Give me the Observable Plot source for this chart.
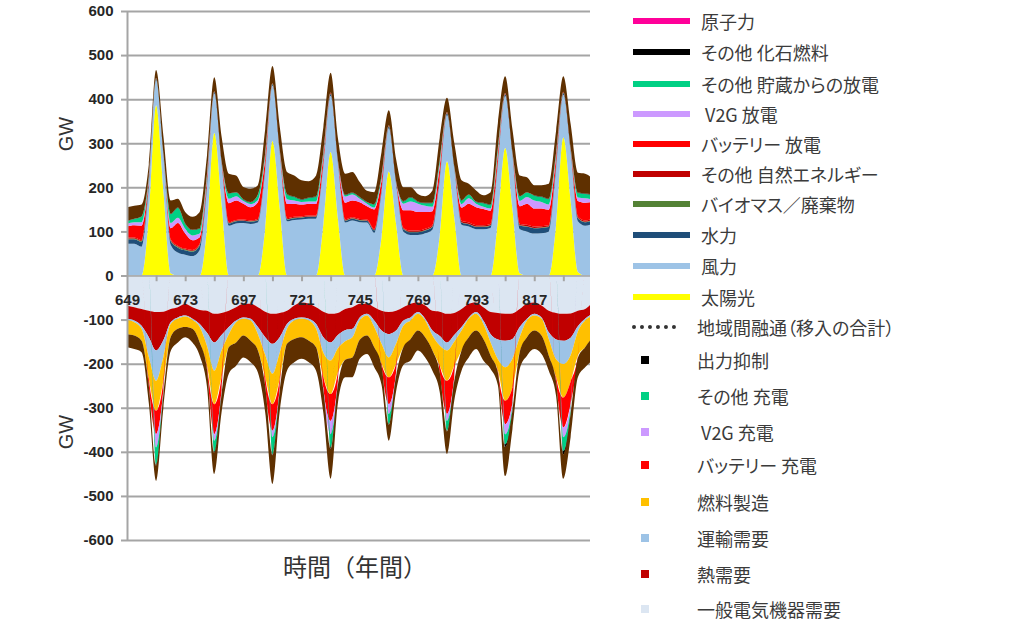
<!DOCTYPE html>
<html><head><meta charset="utf-8">
<script src="https://cdn.jsdelivr.net/npm/d3@7"></script>
<script src="https://cdn.jsdelivr.net/npm/@observablehq/plot@0.6"></script>
<style>
body{margin:0;background:#fff;}
#wrap{position:relative;width:1016px;height:631px;overflow:hidden;background:#fff;}
#chart{position:absolute;left:0;top:0;}
#chart svg g[aria-label="y-axis tick"]{stroke:#a5a5a5;stroke-width:2;}
#chart svg g[aria-label="y-axis tick label"]{font-weight:bold;font-size:15px;fill:#262626;}
.gw{position:absolute;font-family:"Liberation Sans",Arial,sans-serif;font-size:20px;color:#333;transform:translate(-50%,-50%) rotate(-90deg);white-space:nowrap;}
.xt{position:absolute;left:235px;width:240px;top:550px;line-height:32px;text-align:center;font-family:"Noto Sans CJK JP",sans-serif;font-size:24px;color:#333;}
.lt{position:absolute;font-family:"Noto Sans CJK JP",sans-serif;font-size:18px;line-height:26px;color:#3b3b3b;white-space:pre;font-feature-settings:"palt";}
.sw{position:absolute;}
</style></head>
<body><div id="wrap"><div id="chart"></div></div>
<script>
// hours (3-hour steps)
const hours = [649,652,655,658,661,664,667,670,673,676,679,682,685,688,691,694,697,700,703,706,709,712,715,718,721,724,727,730,733,736,739,742,745,748,751,754,757,760,763,766,769,772,775,778,781,784,787,790,793,796,799,802,805,808,811,814,817,820,823,826,829,832,835,838,841];
const xLabelTicks = [649,673,697,721,745,769,793,817];
const xMinorTicks = [661,673,685,697,709,721,733,745,757,769,781,793,805,817,829];
const yTicks = [-600,-500,-400,-300,-200,-100,0,100,200,300,400,500,600];

// supply (GW)
const solar = [0,0,0,135,386,193,5,0, 0,0,0,108,323,163,0,0, 0,0,0,108,305,153,0,0, 0,0,0,116,280,129,0,0, 0,0,0,87,236,117,0,0, 0,0,0,90,259,132,0,0, 0,0,0,126,289,151,5,0, 0,0,0,115,313,170,8,0, 0];
const wind = [72,72,65,65,57,80,65,52, 47,44,58,90,90,91,113,118, 119,117,120,128,126,125,123,126, 127,129,129,130,128,125,120,125, 121,120,97,100,98,90,100,92, 92,96,104,125,105,110,115,111, 105,105,108,125,118,122,100,100, 95,96,100,125,97,111,115,113, 117];
const hydro = [10,10,11,10,3,3,8,11, 10,10,10,8,3,4,5,5, 5,5,5,5,3,4,4,4, 4,4,4,4,4,4,4,4, 4,4,5,5,4,4,5,6, 6,6,6,6,4,4,5,5, 5,5,5,5,4,5,8,11, 12,12,10,8,4,5,7,8, 8];
const biomass = [2,2,2,2,1,1,2,2, 2,2,2,2,1,1,1,1, 1,1,1,1,1,1,1,1, 1,1,1,1,1,1,1,1, 1,1,1,1,1,1,1,1, 1,1,1,1,1,1,1,1, 1,1,1,1,1,1,1,1, 1,1,1,1,1,1,1,1, 1];
const otherRenew = [2,2,2,2,1,1,2,2, 2,2,2,2,1,2,2,2, 2,2,2,2,1,2,2,2, 2,2,2,2,2,2,2,2, 2,2,2,2,2,2,2,3, 3,3,3,3,2,1,3,3, 3,3,3,3,2,1,3,3, 3,3,3,3,2,3,3,3, 3];
const batteryOut = [25,28,33,5,0,0,25,52, 34,22,15,10,0,0,43,44, 36,30,38,20,0,0,32,30, 27,27,26,15,0,0,38,38, 38,30,45,20,0,0,40,46, 42,38,32,20,0,0,30,43, 41,37,30,15,0,0,40,48, 41,40,35,15,0,0,35,40, 38];
const v2gOut = [6,7,8,3,0,0,12,12, 11,11,8,5,0,0,10,10, 6,7,5,6,0,0,11,7, 6,5,6,5,0,0,14,14, 8,6,4,5,0,0,15,20, 19,14,10,8,0,0,8,12, 8,5,5,6,0,0,12,15, 18,15,12,5,0,0,8,10, 6];
const storageOut = [6,7,12,3,0,0,20,22, 11,12,11,5,0,0,12,8, 3,4,12,6,0,0,11,8, 5,8,10,6,0,0,3,3, 3,3,7,5,0,0,5,9, 4,6,8,8,0,0,8,8, 4,8,8,8,0,0,10,10, 11,11,12,5,0,0,10,10, 10];
const fossil = [1,1,1,0,0,0,1,1, 1,1,1,0,0,0,1,1, 1,1,1,1,0,0,1,1, 1,1,1,1,0,1,1,1, 1,1,1,1,0,0,1,1, 1,1,1,1,0,0,1,1, 1,1,1,1,0,0,1,1, 1,1,1,1,0,0,1,1, 1];
const importFlow = [31,29,27,27,18,39,30,20, 26,29,37,42,32,55,44,38, 28,30,21,54,39,53,50,48, 43,37,48,56,45,50,48,47, 34,25,27,54,34,50,31,22, 17,15,28,50,32,53,45,24, 25,17,28,56,38,52,47,34, 23,26,34,50,35,54,45,45, 36];

// demand (GW, negative)
const general = [-68,-72,-76,-80,-83,-82,-76,-72, -64,-72,-78,-80,-87,-85,-80,-72, -64,-64,-72,-82,-87,-85,-80,-68, -61,-64,-72,-82,-87,-85,-76,-72, -64,-64,-72,-80,-83,-80,-72,-64, -61,-68,-80,-82,-87,-85,-76,-64, -61,-72,-83,-85,-87,-86,-76,-64, -61,-68,-80,-85,-87,-86,-80,-76, -61];
const heat = [-30,-30,-38,-60,-87,-65,-30,-23, -27,-26,-32,-50,-65,-50,-37,-30, -31,-34,-45,-58,-68,-55,-30,-30, -34,-34,-38,-58,-65,-50,-48,-49, -31,-23,-30,-45,-50,-45,-30,-31, -22,-30,-45,-55,-65,-50,-41,-31, -22,-30,-50,-60,-61,-58,-41,-34, -26,-27,-49,-60,-61,-55,-35,-22, -26];
const transport = [-3,-4,-7,-45,-69,-38,-4,-3, -2,-3,-7,-30,-64,-35,-16,-4, -3,-4,-16,-40,-68,-35,-11,-4, -3,-4,-11,-35,-41,-30,-25,-19, -7,-4,-15,-30,-53,-30,-12,-7, -4,-4,-11,-22,-18,-15,-8,-3, -4,-8,-19,-45,-60,-45,-23,-4, -4,-3,-15,-45,-53,-40,-12,-4, -5];
const fuel = [-32,-30,-27,-50,-68,-55,-30,-23, -24,-20,-35,-45,-76,-60,-30,-46, -38,-46,-37,-50,-69,-60,-34,-42, -42,-46,-42,-55,-76,-55,-42,-46, -44,-45,-46,-45,-45,-45,-49,-42, -38,-38,-34,-45,-69,-55,-45,-42, -38,-34,-30,-25,-76,-65,-34,-38, -34,-38,-38,-40,-76,-60,-55,-61, -48];
const batteryIn = [0,0,0,-15,-53,-20,0,0, 0,0,0,-8,-68,-30,0,0, 0,0,0,-20,-60,-20,0,0, 0,0,0,-25,-61,-20,0,0, 0,0,0,-5,-61,-20,0,0, 0,0,0,-15,-75,-25,0,0, 0,0,0,-5,-53,-35,0,0, 0,0,0,-10,-68,-50,-5,0, 0];
const v2gIn = [0,0,0,0,-30,-5,0,0, 0,0,0,0,-15,-5,0,0, 0,0,0,0,-15,-5,0,0, 0,0,0,-5,-30,-5,0,0, 0,0,0,0,-22,-5,0,0, 0,0,0,0,-16,-5,0,0, 0,0,0,0,-23,-8,0,0, 0,0,0,0,-22,-12,0,0, 0];
const otherIn = [0,0,0,0,-38,-5,0,0, 0,0,0,0,-25,-5,0,0, 0,0,0,0,-38,-3,0,0, 0,0,0,0,-30,-3,0,0, 0,0,0,0,-23,-3,0,0, 0,0,0,0,-22,-5,0,0, 0,0,0,0,-23,-8,0,0, 0,0,0,0,-31,-10,0,0, 0];
const curtail = [0,0,0,0,-3,-1,0,0, 0,0,0,0,-2,-1,0,0, 0,0,0,0,-3,0,0,0, 0,0,0,0,-4,0,0,0, 0,0,0,0,-2,0,0,0, 0,0,0,0,-2,0,0,0, 0,0,0,0,-6,-2,0,0, 0,0,0,0,-8,-2,0,0, 0];
const exportFlow = [-30,-31,-26,-40,-35,-30,-32,-31, -23,-31,-30,-40,-48,-40,-60,-53, -50,-49,-50,-60,-65,-45,-61,-53, -49,-49,-53,-52,-67,-41,-40,-45, -43,-42,-45,-43,-36,-35,-40,-49, -45,-46,-46,-45,-51,-44,-46,-46, -42,-49,-30,-29,-66,-42,-38,-42, -42,-42,-34,-33,-55,-52,-44,-45, -53];

const posNames = ["太陽光","風力","水力","バイオマス／廃棄物","その他 自然エネルギー","バッテリー 放電","V2G 放電","その他 貯蔵からの放電","その他 化石燃料","地域間融通（移入）"];
const posValues = [solar, wind, hydro, biomass, otherRenew, batteryOut, v2gOut, storageOut, fossil, importFlow];
const posColors = ["#ffff00","#9dc3e6","#1f4e79","#548235","#c00000","#ff0000","#cc99ff","#00d084","#000000","#5f3000"];
const negNames = ["一般電気機器需要","熱需要","運輸需要","燃料製造","バッテリー 充電","V2G 充電","その他 充電","出力抑制","地域間融通（移出）"];
const negValues = [general, heat, transport, fuel, batteryIn, v2gIn, otherIn, curtail, exportFlow];
const negColors = ["#dce6f2","#c00000","#9dc3e6","#ffc000","#ff0000","#cc99ff","#00d084","#000000","#5f3000"];

const legendLabels = ["原子力","その他 化石燃料","その他 貯蔵からの放電"," V2G 放電","バッテリー 放電","その他 自然エネルギー","バイオマス／廃棄物","水力","風力","太陽光","地域間融通（移入の合計）","出力抑制","その他 充電"," V2G 充電","バッテリー 充電","燃料製造","運輸需要","熱需要","一般電気機器需要"];
const legendColors = ["#ff0099","#000000","#00d084","#cc99ff","#ff0000","#c00000","#548235","#1f4e79","#9dc3e6","#ffff00","#333333","#000000","#00d084","#cc99ff","#ff0000","#ffc000","#9dc3e6","#c00000","#dce6f2"];
const legendKinds = ["line","line","line","line","line","line","line","line","line","line","dots","square","square","square","square","square","square","square","square"];
const legendTops = [21,52,84,114,144,174,204,235,266,297,327,360,396,432,465,502,538,574,609];

const toRows = (names, values) => names.flatMap((name, k) => values[k].map((v, i) => ({hour: hours[i], series: name, value: v})));
const posRows = toRows(posNames, posValues);
const negRows = toRows(negNames, negValues);

const chart = Plot.plot({
  width: 600, height: 560,
  marginLeft: 127, marginRight: 10, marginTop: 11, marginBottom: 20,
  style: {fontFamily: "'Liberation Sans', Arial, sans-serif", fontSize: "15px", background: "transparent", overflow: "visible"},
  x: {domain: [649, 840], axis: null},
  y: {domain: [-600, 600], ticks: yTicks, tickSize: 6, tickPadding: 8, tickFormat: d => String(d), label: null},
  color: {domain: [...posNames, ...negNames], range: [...posColors, ...negColors]},
  marks: [
    Plot.ruleY(yTicks, {stroke: "#a5a5a5", strokeWidth: 2}),
    Plot.areaY(posRows, {x: "hour", y: "value", z: "series", fill: "series", order: posNames, curve: "monotone-x", clip: true}),
    Plot.areaY(negRows, {x: "hour", y: "value", z: "series", fill: "series", order: negNames, curve: "monotone-x", clip: true}),
    Plot.ruleY([0], {stroke: "#a5a5a5", strokeWidth: 1.5}),
    Plot.ruleX(xMinorTicks, {x: d => d, y1: 0, y2: -13, stroke: "#a5a5a5", strokeWidth: 2}),
    Plot.ruleX([649], {stroke: "#a5a5a5", strokeWidth: 2}),
    Plot.text(xLabelTicks, {x: d => d, y: 0, dy: 24, text: d => String(d), fontWeight: "bold", fontSize: 15, fill: "#262626"})
  ]
});
const wrap = document.getElementById("wrap");
document.getElementById("chart").appendChild(chart);

function addDiv(cls, css, text) {
  const d = document.createElement("div");
  d.className = cls;
  Object.assign(d.style, css);
  if (text != null) d.textContent = text;
  wrap.appendChild(d);
  return d;
}
addDiv("gw", {left: "66px", top: "134px"}, "GW");
addDiv("gw", {left: "66px", top: "432px"}, "GW");
addDiv("xt", {}, "時間（年間）");

legendLabels.forEach((label, k) => {
  const t = legendTops[k], kind = legendKinds[k], c = legendColors[k];
  if (kind === "line") {
    addDiv("sw", {left: "633px", top: (t - 3) + "px", width: "57px", height: "6px", background: c});
    addDiv("lt", {left: "701px", top: (t - 13) + "px"}, label);
  } else if (kind === "dots") {
    addDiv("sw", {left: "632px", top: (t - 2) + "px", width: "44px", height: "0px", borderTop: "4px dotted " + c});
    addDiv("lt", {left: "697px", top: (t - 13) + "px"}, label);
  } else {
    addDiv("sw", {left: "641px", top: (t - 4) + "px", width: "8px", height: "8px", background: c});
    addDiv("lt", {left: "697px", top: (t - 13) + "px"}, label);
  }
});
</script>
</body></html>
